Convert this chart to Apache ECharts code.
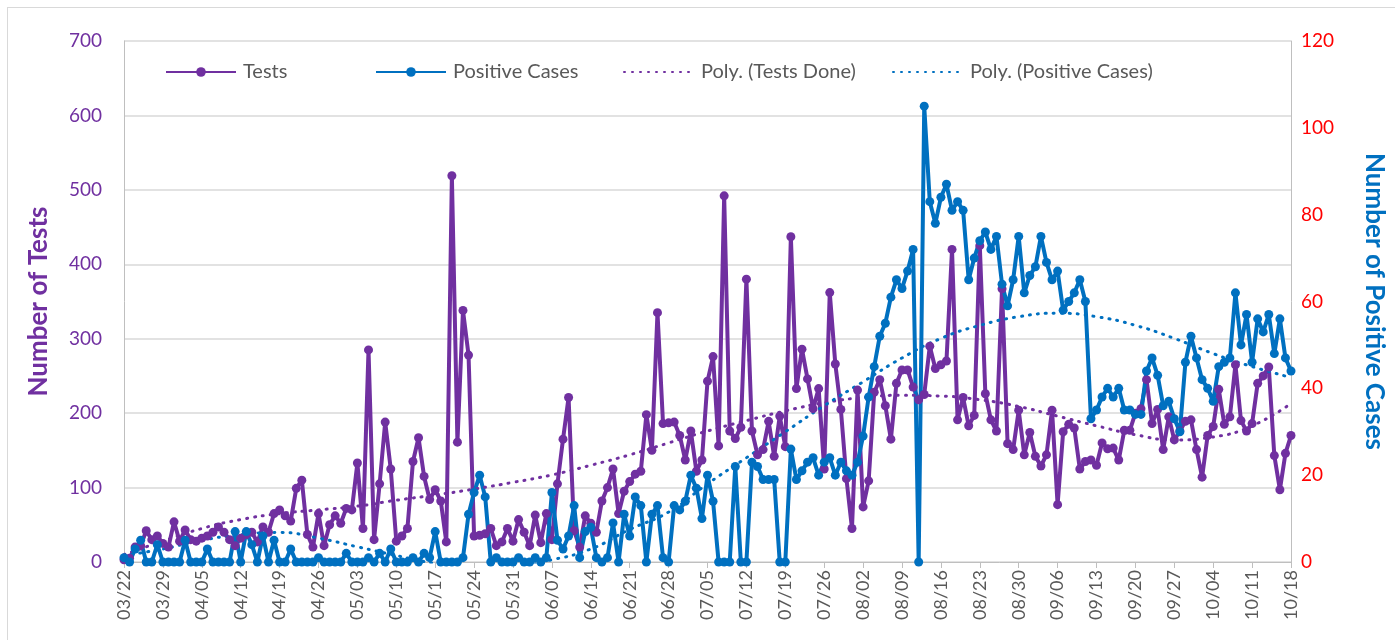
<!DOCTYPE html>
<html>
<head>
<meta charset="utf-8">
<script src="https://cdn.jsdelivr.net/npm/echarts@6/dist/echarts.min.js"></script>
<style>
  html, body { margin: 0; padding: 0; background: #fff; }
  #frame {
    position: absolute; left: 7px; top: 7px; width: 1500px; height: 700px;
    border-left: 1px solid #d9d9d9; border-top: 1px solid #d9d9d9;
  }
  #chart { position: absolute; left: 0; top: 0; width: 1395px; height: 640px; }
</style>
</head>
<body>
<div id="frame"></div>
<div id="chart"></div>
<script>
// daily tests, 03/22 .. 10/18 (one row per week)
const tests = [
  3, 5, 20, 22, 42, 30, 35,
  25, 20, 54, 28, 43, 30, 28,
  32, 35, 40, 47, 40, 30, 22,
  32, 37, 40, 27, 47, 40, 65,
  70, 62, 55, 99, 110, 37, 20,
  65, 22, 50, 62, 52, 72, 70,
  133, 45, 285, 30, 105, 188, 125,
  28, 35, 45, 135, 167, 115, 84,
  97, 82, 27, 519, 161, 338, 278,
  35, 36, 38, 45, 22, 27, 45,
  28, 57, 40, 22, 63, 26, 65,
  30, 105, 165, 221, 42, 20, 62,
  52, 40, 82, 100, 125, 65, 95,
  108, 118, 122, 198, 150, 335, 186,
  187, 188, 170, 137, 176, 122, 137,
  243, 276, 156, 492, 176, 166, 181,
  380, 176, 144, 151, 189, 142, 196,
  155, 437, 233, 286, 246, 206, 233,
  125, 362, 266, 205, 112, 45, 231,
  74, 109, 228, 245, 210, 165, 240,
  258, 258, 235, 218, 225, 290, 260,
  265, 270, 420, 191, 221, 183, 197,
  425, 226, 191, 176, 367, 159, 151,
  204, 144, 174, 142, 129, 144, 204,
  77, 175, 185, 180, 125, 135, 137,
  130, 160, 152, 153, 137, 177, 177,
  200, 206, 245, 186, 205, 151, 195,
  164, 176, 189, 191, 151, 114, 170,
  182, 232, 185, 195, 265, 190, 176,
  186, 240, 250, 262, 143, 97, 146,
  170
];

// daily positive cases (right axis)
const positives = [
  1, 0, 3, 5, 0, 0, 4,
  0, 0, 0, 0, 5, 0, 0,
  0, 3, 0, 0, 0, 0, 7,
  0, 7, 4, 0, 6, 0, 5,
  0, 0, 3, 0, 0, 0, 0,
  1, 0, 0, 0, 0, 2, 0,
  0, 0, 1, 0, 2, 0, 3,
  0, 0, 0, 1, 0, 2, 1,
  7, 0, 0, 0, 0, 1, 11,
  16, 20, 15, 0, 1, 0, 0,
  0, 1, 0, 0, 1, 0, 1,
  16, 5, 3, 6, 13, 1, 7,
  8, 1, 0, 1, 9, 0, 11,
  6, 15, 13, 0, 11, 13, 1,
  0, 13, 12, 14, 20, 17, 10,
  20, 14, 0, 0, 0, 22, 0,
  0, 23, 22, 19, 19, 19, 0,
  0, 26, 19, 21, 23, 24, 20,
  23, 24, 20, 23, 21, 20, 23,
  29, 38, 45, 52, 55, 61, 65,
  63, 67, 72, 0, 105, 83, 78,
  84, 87, 81, 83, 81, 65, 70,
  74, 76, 72, 75, 64, 59, 65,
  75, 62, 66, 68, 75, 69, 65,
  67, 58, 60, 62, 65, 60, 33,
  35, 38, 40, 38, 40, 35, 35,
  34, 34, 44, 47, 43, 36, 37,
  33, 30, 46, 52, 47, 42, 40,
  37, 45, 46, 47, 62, 50, 57,
  46, 56, 53, 57, 48, 56, 47,
  44
];

// trend lines, one value per week
const polyTests = [10, 28, 45, 57, 65, 70, 75, 83, 90, 98, 107, 117, 130, 144, 160,
  176, 190, 203, 214, 221, 224, 223, 218, 209, 196, 183, 171, 164, 168, 183, 213];
const polyPositives = [1.5, 3, 5, 6.3, 6.8, 5.5, 3.5, 1.5, -0.3, -1.2, -1, 0.5, 3, 7.5, 11.5,
  18, 24, 30, 36, 41.5, 47, 51.5, 54.5, 56.5, 57.3, 56.5, 54.5, 51.5, 48, 45, 42.5];

// date labels
const days = [];
const start = Date.UTC(2020, 2, 22);
for (let i = 0; i < tests.length; i++) {
  const d = new Date(start + i * 86400000);
  const mm = String(d.getUTCMonth() + 1).padStart(2, "0");
  const dd = String(d.getUTCDate()).padStart(2, "0");
  days.push(mm + "/" + dd);
}
const weeks = days.filter((d, i) => i % 7 === 0);

const PURPLE = "#7030A0";
const BLUE = "#0070C0";
const FONT = "Lato";
const GREY = "#595959";

let chart = echarts.init(document.getElementById("chart"));

function legendAt(name, left, dotted) {
  let legend = {
    data: [name],
    left: left,
    top: 62,
    padding: 0,
    itemWidth: 70,
    itemHeight: 12,
    textStyle: { color: GREY, fontSize: 20, fontFamily: FONT, padding: [0, 0, 0, 2] },
  };
  if (dotted) {
    legend.itemStyle = { opacity: 0 };
  }
  return legend;
}

let option = {
  animation: false,
  legend: [
    legendAt("Tests", 165, false),
    legendAt("Positive Cases", 375, false),
    legendAt("Poly. (Tests Done)", 623, true),
    legendAt("Poly. (Positive Cases)", 892, true),
  ],
  grid: { left: 124, right: 104, top: 41, bottom: 78 },
  xAxis: [
    {
      type: "category",
      boundaryGap: false,
      data: days,
      axisLine: { lineStyle: { color: "#bfbfbf", width: 1 } },
      axisTick: { show: true, interval: 6, length: 6, lineStyle: { color: "#bfbfbf" } },
      axisLabel: {
        interval: 6,
        rotate: 90,
        color: GREY,
        fontSize: 18,
        fontFamily: FONT,
        margin: 8,
      },
    },
    {
      type: "category",
      boundaryGap: false,
      data: weeks,
      show: false,
      position: "bottom",
    },
  ],
  yAxis: [
    {
      type: "value",
      min: 0,
      max: 700,
      interval: 100,
      name: "Number of Tests",
      nameLocation: "middle",
      nameGap: 72,
      nameTextStyle: { color: PURPLE, fontSize: 26, fontWeight: "bold", fontFamily: FONT },
      axisLine: { show: true, lineStyle: { color: "#bfbfbf" } },
      axisTick: { show: false },
      axisLabel: { color: PURPLE, fontSize: 19, fontFamily: FONT, margin: 22 },
      splitLine: { lineStyle: { color: "#d9d9d9", width: 1.5 } },
    },
    {
      type: "value",
      position: "right",
      min: 0,
      max: 120,
      interval: 20,
      name: "Number of Positive Cases",
      nameLocation: "middle",
      nameRotate: -90,
      nameGap: 70,
      nameTextStyle: { color: BLUE, fontSize: 26, fontWeight: "bold", fontFamily: FONT },
      axisLine: { show: true, lineStyle: { color: "#bfbfbf" } },
      axisTick: { show: false },
      axisLabel: { color: "#FF0000", fontSize: 19, fontFamily: FONT, margin: 10 },
      splitLine: { show: false },
    },
  ],
  series: [
    {
      name: "Tests",
      type: "line",
      data: tests,
      symbol: "circle",
      symbolSize: 9,
      showAllSymbol: true,
      color: PURPLE,
      lineStyle: { width: 4, color: PURPLE },
      itemStyle: { color: PURPLE },
    },
    {
      name: "Positive Cases",
      type: "line",
      yAxisIndex: 1,
      data: positives,
      symbol: "circle",
      symbolSize: 9,
      showAllSymbol: true,
      color: BLUE,
      lineStyle: { width: 4, color: BLUE },
      itemStyle: { color: BLUE },
    },
    {
      name: "Poly. (Tests Done)",
      type: "line",
      xAxisIndex: 1,
      data: polyTests,
      smooth: true,
      symbol: "none",
      color: PURPLE,
      lineStyle: { width: 3, color: PURPLE, type: [1, 7], cap: "round" },
    },
    {
      name: "Poly. (Positive Cases)",
      type: "line",
      xAxisIndex: 1,
      yAxisIndex: 1,
      data: polyPositives,
      smooth: true,
      symbol: "none",
      color: BLUE,
      lineStyle: { width: 3, color: BLUE, type: [1, 7], cap: "round" },
    },
  ],
};

chart.setOption(option);
</script>
</body>
</html>
